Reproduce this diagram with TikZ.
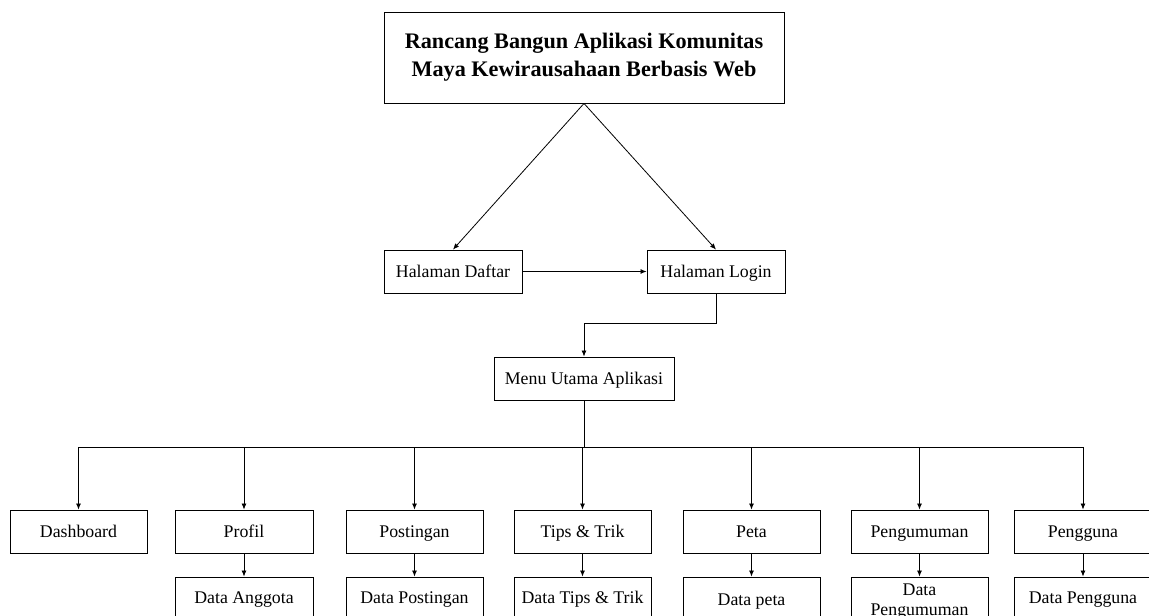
\documentclass[tikz,border=0pt]{standalone}
\usepackage{fontspec}
\setmainfont{Liberation Serif}
\usetikzlibrary{arrows.meta,calc}
\begin{document}
\begin{tikzpicture}[x=1pt,y=-1pt,
  box/.style={draw,line width=0.9pt,minimum width=138pt,minimum height=43pt,inner sep=0pt,align=center,
              text height=12pt,text depth=0pt,font=\fontsize{17.8}{20}\selectfont},
  arr/.style={line width=0.8pt,-{Latex[length=6pt,width=5pt]}},
  ln/.style={line width=0.8pt}]
\useasboundingbox (0,0) rectangle (1149,616);
\clip (0,0) rectangle (1149,616);
% top title
\node[draw,line width=0.9pt,minimum width=400pt,minimum height=91pt,inner sep=0pt,align=center,
      font=\fontsize{22.2}{28}\selectfont\bfseries] (title) at (584,57.5)
  {Rancang Bangun Aplikasi Komunitas\\Maya Kewirausahaan Berbasis Web};
% entry pages
\node[box] (daftar) at (453,271.5) {Halaman Daftar};
\node[box] (login) at (716,271.5) {Halaman Login};
\node[box,minimum width=180pt] (menu) at (584,378.5) {Menu Utama Aplikasi};
% menu items
\node[box,minimum width=137pt] (dash) at (78.5,531.5) {Dashboard};
\node[box] (profil) at (244,531.5) {Profil};
\node[box,minimum width=137pt] (post) at (414.5,531.5) {Postingan};
\node[box,minimum width=137pt] (tips) at (582.5,531.5) {Tips \& Trik};
\node[box,minimum width=137pt] (peta) at (751.5,531.5) {Peta};
\node[box,minimum width=137pt] (umum) at (919.5,531.5) {Pengumuman};
\node[box,minimum width=137pt] (user) at (1083,531.5) {Pengguna};
% data nodes (all tops at y = 577)
\node[box,minimum height=41pt] (dprofil) at (244,597.5) {Data Anggota};
\node[box,minimum width=137pt,minimum height=41pt] (dpost) at (414.5,597.5) {Data Postingan};
\node[box,minimum width=137pt,minimum height=41pt] (dtips) at (582.5,597.5) {Data Tips \& Trik};
\node[box,minimum width=137pt,minimum height=44pt] (dpeta) at (751.5,599) {Data peta};
\node[box,minimum width=137pt,minimum height=50pt,text height=,text depth=] (dumum) at (919.5,602) {Data\\Pengumuman};
\node[box,minimum width=137pt,minimum height=41pt] (duser) at (1083,597.5) {Data Pengguna};
% connectors
\draw[arr] (title.south) -- (daftar.north);
\draw[arr] (title.south) -- (login.north);
\draw[arr] (daftar.east) -- (login.west);
\draw[arr] (login.south) -- ++(0,30) -| (menu.north);
\coordinate (bus) at (584,447);
\draw[ln] (menu.south) -- (bus);
\draw[ln] (dash.north |- bus) -- (user.north |- bus);
\foreach \n in {dash,profil,post,tips,peta,umum,user}
  \draw[arr] (\n.north |- bus) -- (\n.north);
\foreach \a/\b in {profil/dprofil,post/dpost,tips/dtips,peta/dpeta,umum/dumum,user/duser}
  \draw[arr] (\a.south) -- (\b.north);
\end{tikzpicture}
\end{document}
